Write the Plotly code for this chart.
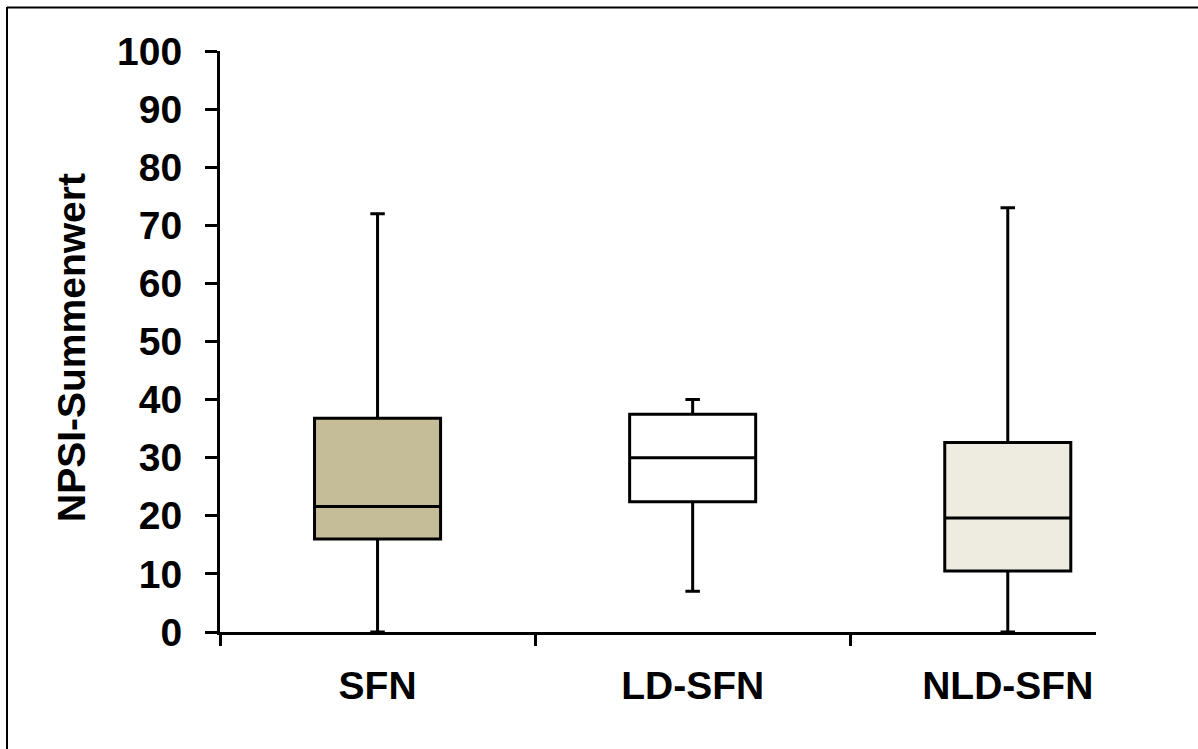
import plotly.graph_objects as go

# Group labels and five-number summaries of the NPSI total score
groups = ["SFN", "LD-SFN", "NLD-SFN"]
lower_whisker = [0, 7, 0]
q1_values = [16, 22.4, 10.5]
median_values = [21.6, 30, 19.6]
q3_values = [36.8, 37.5, 32.6]
upper_whisker = [72, 40, 73]
fill_colors = ["#C4BD97", "#FFFFFF", "#EEEBE0"]

y_ticks = list(range(0, 101, 10))

W, H = 1198, 749
L, R, T, B = 220, 102, 51, 117
plot_w = W - L - R
plot_h = H - T - B

font_family = "Liberation Sans, Arial, sans-serif"
label_size = 39

fig = go.Figure()
for i, g in enumerate(groups):
    fig.add_trace(go.Box(
        x=[g],
        q1=[q1_values[i]],
        median=[median_values[i]],
        q3=[q3_values[i]],
        lowerfence=[lower_whisker[i]],
        upperfence=[upper_whisker[i]],
        fillcolor=fill_colors[i],
        line=dict(color="black", width=3),
        width=0.4,
        whiskerwidth=0.115,
        boxpoints=False,
        showlegend=False,
        hoverinfo="skip",
    ))


def px_x(px):
    return (px - L) / plot_w


def px_y(py):
    return (H - B - py) / plot_h


# outer frame (left and top edges visible)
shapes = [
    dict(type="line", xref="paper", yref="paper",
         x0=px_x(7), x1=px_x(7), y0=px_y(7), y1=px_y(H + 5),
         line=dict(color="black", width=2)),
    dict(type="line", xref="paper", yref="paper",
         x0=px_x(7), x1=px_x(W + 5), y0=px_y(7.5), y1=px_y(7.5),
         line=dict(color="black", width=2)),
]

fig.update_layout(
    width=W, height=H,
    margin=dict(l=L, r=R, t=T, b=B, pad=0),
    paper_bgcolor="white",
    plot_bgcolor="white",
    boxmode="overlay",
    shapes=shapes,
    font=dict(family=font_family, color="black"),
    annotations=[dict(
        text="NPSI-Summenwert", textangle=-90,
        xref="paper", yref="paper",
        x=px_x(71), y=px_y(348),
        xanchor="center", yanchor="middle", showarrow=False,
        font=dict(family=font_family, size=label_size, color="black", weight=700),
    )],
)

fig.update_xaxes(
    type="category",
    categoryorder="array", categoryarray=groups,
    range=[-0.5, 2.28],
    showline=True, linecolor="black", linewidth=3,
    ticks="outside", tickson="boundaries", ticklen=11, tickwidth=3, tickcolor="black",
    showgrid=False, zeroline=False,
    tickfont=dict(family=font_family, size=label_size, color="black", weight=700),
    ticklabelstandoff=17,
)

fig.update_yaxes(
    range=[0, 100],
    tickvals=y_ticks,
    showline=True, linecolor="black", linewidth=3,
    ticks="outside", ticklen=12, tickwidth=3, tickcolor="black",
    showgrid=False, zeroline=False,
    tickfont=dict(family=font_family, size=label_size, color="black", weight=700),
    ticklabelstandoff=15,
)

fig.write_html("out.html")
